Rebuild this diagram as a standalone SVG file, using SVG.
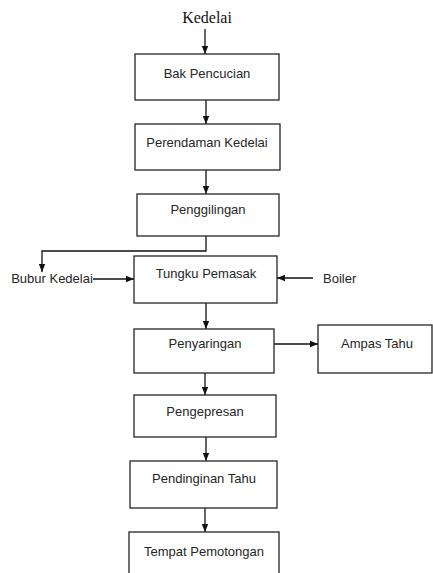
<svg xmlns="http://www.w3.org/2000/svg" width="433" height="573" viewBox="0 0 433 573">
<style>
.box{fill:#fff;stroke:#262626;stroke-width:1.3}
.t{font-family:"Liberation Sans",Arial,sans-serif;font-size:13px;fill:#262626;text-anchor:middle}
.c{fill:none;stroke:#111;stroke-width:1.3}
</style>
<defs>
<marker id="ah" markerUnits="userSpaceOnUse" markerWidth="8" markerHeight="8" viewBox="0 0 8 8" refX="8" refY="4" orient="auto">
<path d="M0,0.8 L8,4 L0,7.2 Z" fill="#111"/>
</marker>
</defs>
<rect width="433" height="573" fill="#fff"/>
<text x="207" y="23" font-family="Liberation Serif,'Times New Roman',serif" font-size="16" text-anchor="middle" fill="#111">Kedelai</text>
<g id="connectors">
<line class="c" x1="205" y1="29" x2="205" y2="54" marker-end="url(#ah)"/>
<line class="c" x1="206" y1="100" x2="206" y2="124" marker-end="url(#ah)"/>
<line class="c" x1="206" y1="170" x2="206" y2="194" marker-end="url(#ah)"/>
<polyline class="c" points="206,236 206,251 42,251 42,272" marker-end="url(#ah)"/>
<line class="c" x1="93" y1="279" x2="134" y2="279" marker-end="url(#ah)"/>
<line class="c" x1="313" y1="278" x2="277" y2="278" marker-end="url(#ah)"/>
<line class="c" x1="206" y1="303" x2="206" y2="329" marker-end="url(#ah)"/>
<line class="c" x1="274" y1="344" x2="318" y2="344" marker-end="url(#ah)"/>
<line class="c" x1="205" y1="373" x2="205" y2="395" marker-end="url(#ah)"/>
<line class="c" x1="206" y1="437" x2="206" y2="461" marker-end="url(#ah)"/>
<line class="c" x1="205" y1="508" x2="205" y2="532" marker-end="url(#ah)"/>
</g>
<g id="bak"><rect class="box" x="135" y="54" width="144" height="46"/><text class="t" x="207" y="78">Bak Pencucian</text></g>
<g id="perendaman"><rect class="box" x="135" y="124" width="145" height="46"/><text class="t" x="207" y="147">Perendaman Kedelai</text></g>
<g id="penggilingan"><rect class="box" x="137" y="194" width="142" height="42"/><text class="t" x="208" y="214">Penggilingan</text></g>
<g id="bubur"><text class="t" x="52" y="283">Bubur Kedelai</text></g>
<g id="tungku"><rect class="box" x="134" y="256" width="143" height="47"/><text class="t" x="206" y="278">Tungku Pemasak</text></g>
<g id="boiler"><text class="t" x="323" y="283" style="text-anchor:start">Boiler</text></g>
<g id="penyaringan"><rect class="box" x="134" y="329" width="140" height="44"/><text class="t" x="205" y="348">Penyaringan</text></g>
<g id="ampas"><rect class="box" x="318" y="325" width="114" height="48"/><text class="t" x="377" y="348">Ampas Tahu</text></g>
<g id="pengepresan"><rect class="box" x="134" y="395" width="142" height="42"/><text class="t" x="205" y="416">Pengepresan</text></g>
<g id="pendinginan"><rect class="box" x="130" y="461" width="147" height="47"/><text class="t" x="204" y="483">Pendinginan Tahu</text></g>
<g id="tempat"><rect class="box" x="129" y="532" width="150" height="45"/><text class="t" x="204" y="556">Tempat Pemotongan</text></g>
</svg>
